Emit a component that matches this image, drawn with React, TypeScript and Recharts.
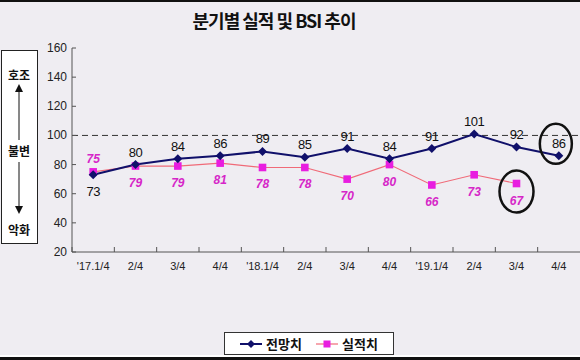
import React from 'react';
import { LineChart, Line, XAxis, YAxis, ReferenceLine, LabelList } from 'recharts';

const quarters = ["'17.1/4", '2/4', '3/4', '4/4', "'18.1/4", '2/4', '3/4', '4/4', "'19.1/4", '2/4', '3/4', '4/4'];
const forecast = [73, 80, 84, 86, 89, 85, 91, 84, 91, 101, 92, 86];
const actual: (number | null)[] = [75, 79, 79, 81, 78, 78, 70, 80, 66, 73, 67, null];
const yTicks = [20, 40, 60, 80, 100, 120, 140, 160];
const forecastLabelBelow = [0];
const actualLabelAbove = [0];
const circledForecast = [11];
const circledActual = [10];

const data = quarters.map((q, i) => ({ q, forecast: forecast[i], actual: actual[i] }));

const W = 580;
const H = 360;
const PLOT_LEFT = 72;
const BAND = (W - PLOT_LEFT) / quarters.length;
const NAVY = '#10106a';
const MAGENTA = '#e81ee0';
const PINK_LINE = '#f06a78';
const LABEL_MAGENTA = '#d626c8';
const FONT = '"Liberation Sans", Arial, sans-serif';
const KFONT = '"Noto Sans CJK KR", sans-serif';

const YTick = (props: any) => {
  const { x, y, payload } = props;
  return (
    <g>
      <line x1={x} x2={x + 4} y1={y} y2={y} stroke="#555" />
      <text x={x - 5} y={y} dy={4} textAnchor="end" fontSize={12} fontFamily={FONT} fill="#222">
        {payload.value}
      </text>
    </g>
  );
};

const XTick = (props: any) => {
  const { x, y, payload } = props;
  return (
    <g>
      <line x1={x - BAND / 2} x2={x - BAND / 2} y1={y} y2={y - 5} stroke="#555" />
      <text x={x} y={y + 18} textAnchor="middle" fontSize={11} fontFamily={FONT} fill="#222">
        {payload.value}
      </text>
    </g>
  );
};

const Diamond = (props: any) => {
  const { cx, cy, index } = props;
  if (cx == null || cy == null) return <g />;
  const s = 4.5;
  return (
    <g>
      <path d={`M${cx},${cy - s} L${cx + s},${cy} L${cx},${cy + s} L${cx - s},${cy} Z`} fill={NAVY} />
      {circledForecast.includes(index) && (
        <ellipse cx={cx - 3} cy={cy - 12} rx={16} ry={20} fill="none" stroke="#111" strokeWidth={2.5} />
      )}
    </g>
  );
};

const Square = (props: any) => {
  const { cx, cy, index } = props;
  if (cx == null || cy == null) return <g />;
  const s = 3.8;
  return (
    <g>
      <rect x={cx - s} y={cy - s} width={2 * s} height={2 * s} fill={MAGENTA} />
      {circledActual.includes(index) && (
        <ellipse cx={cx} cy={cy + 8} rx={17} ry={21} fill="none" stroke="#111" strokeWidth={2.5} />
      )}
    </g>
  );
};

const ForecastLabel = (props: any) => {
  const { x, y, value, index } = props;
  if (value == null) return null;
  const below = forecastLabelBelow.includes(index);
  return (
    <text x={x} y={below ? y + 21 : y - 8} textAnchor="middle" fontSize={13} fontFamily={FONT} fill="#111" letterSpacing={-0.5}>
      {value}
    </text>
  );
};

const ActualLabel = (props: any) => {
  const { x, y, value, index } = props;
  if (value == null) return null;
  const above = actualLabelAbove.includes(index);
  return (
    <text x={x} y={above ? y - 9 : y + 21} textAnchor="middle" fontSize={12} fontStyle="italic" fontWeight="bold" fontFamily={FONT} fill={LABEL_MAGENTA}>
      {value}
    </text>
  );
};

export default function App() {
  return (
    <div style={{ position: 'fixed', left: 0, top: 0, width: W, height: H, background: '#efedf2', overflow: 'hidden' }}>
      <div style={{ position: 'absolute', left: 0, top: 0, width: W, height: 2, background: '#111' }} />
      <div style={{ position: 'absolute', left: 0, top: 355, width: W, height: 2, background: '#fff' }} />
      <div style={{ position: 'absolute', left: 0, top: 357, width: W, height: 3, background: '#111' }} />
      <div
        style={{
          position: 'absolute', left: 0, top: 7, width: 548, textAlign: 'center',
          fontFamily: KFONT, fontWeight: 700, fontSize: 18, letterSpacing: -1, color: '#111',
        }}
      >
        분기별 실적 및 BSI 추이
      </div>
      <svg style={{ position: 'absolute', left: 0, top: 0 }} width={60} height={260}>
        <rect x={1.5} y={50.5} width={36} height={193} fill="#fff" stroke="#222" />
        <text x={19} y={80} textAnchor="middle" fontFamily={KFONT} fontWeight={700} fontSize={12} fill="#111">호조</text>
        <line x1={19} x2={19} y1={88} y2={140} stroke="#111" />
        <path d="M15,92 L19,84 L23,92 Z" fill="#111" />
        <text x={19} y={156} textAnchor="middle" fontFamily={KFONT} fontWeight={700} fontSize={12} fill="#111">불변</text>
        <line x1={19} x2={19} y1={162} y2={210} stroke="#111" />
        <path d="M15,206 L19,214 L23,206 Z" fill="#111" />
        <text x={19} y={235} textAnchor="middle" fontFamily={KFONT} fontWeight={700} fontSize={12} fill="#111">악화</text>
      </svg>
      <div style={{ position: 'absolute', left: 0, top: 0 }}>
        <LineChart width={W} height={H} data={data} margin={{ top: 48, right: 0, bottom: 78, left: 42 }}>
          <XAxis
            dataKey="q"
            tick={<XTick />}
            tickLine={false}
            tickSize={0}
            tickMargin={0}
            axisLine={{ stroke: '#555' }}
            interval={0}
            padding={{ left: BAND / 2, right: BAND / 2 }}
          />
          <YAxis
            width={30}
            domain={[20, 160]}
            ticks={yTicks}
            tick={<YTick />}
            tickLine={false}
            tickSize={0}
            tickMargin={0}
            axisLine={{ stroke: '#555' }}
            interval={0}
          />
          <ReferenceLine y={100} stroke="#333" strokeDasharray="6 4" />
          <Line
            type="linear"
            dataKey="actual"
            stroke={PINK_LINE}
            strokeWidth={1.2}
            dot={<Square />}
            activeDot={false}
            isAnimationActive={false}
            connectNulls={false}
          >
            <LabelList dataKey="actual" content={<ActualLabel />} />
          </Line>
          <Line
            type="linear"
            dataKey="forecast"
            stroke={NAVY}
            strokeWidth={2}
            dot={<Diamond />}
            activeDot={false}
            isAnimationActive={false}
          >
            <LabelList dataKey="forecast" content={<ForecastLabel />} />
          </Line>
        </LineChart>
      </div>
      <div
        style={{
          position: 'absolute', left: 224, top: 332, width: 170, height: 23, boxSizing: 'border-box',
          background: '#fff', border: '1px solid #333', display: 'flex', alignItems: 'center',
          justifyContent: 'center', gap: 14, fontFamily: KFONT, fontWeight: 700, fontSize: 13, color: '#111',
        }}
      >
        <span style={{ display: 'flex', alignItems: 'center', gap: 4 }}>
          <svg width={22} height={10}>
            <line x1={0} x2={22} y1={5} y2={5} stroke={NAVY} strokeWidth={2} />
            <path d="M11,1 L15,5 L11,9 L7,5 Z" fill={NAVY} />
          </svg>
          전망치
        </span>
        <span style={{ display: 'flex', alignItems: 'center', gap: 4 }}>
          <svg width={22} height={10}>
            <line x1={0} x2={22} y1={5} y2={5} stroke={PINK_LINE} strokeWidth={1.2} />
            <rect x={7.5} y={1.5} width={7} height={7} fill={MAGENTA} />
          </svg>
          실적치
        </span>
      </div>
    </div>
  );
}
